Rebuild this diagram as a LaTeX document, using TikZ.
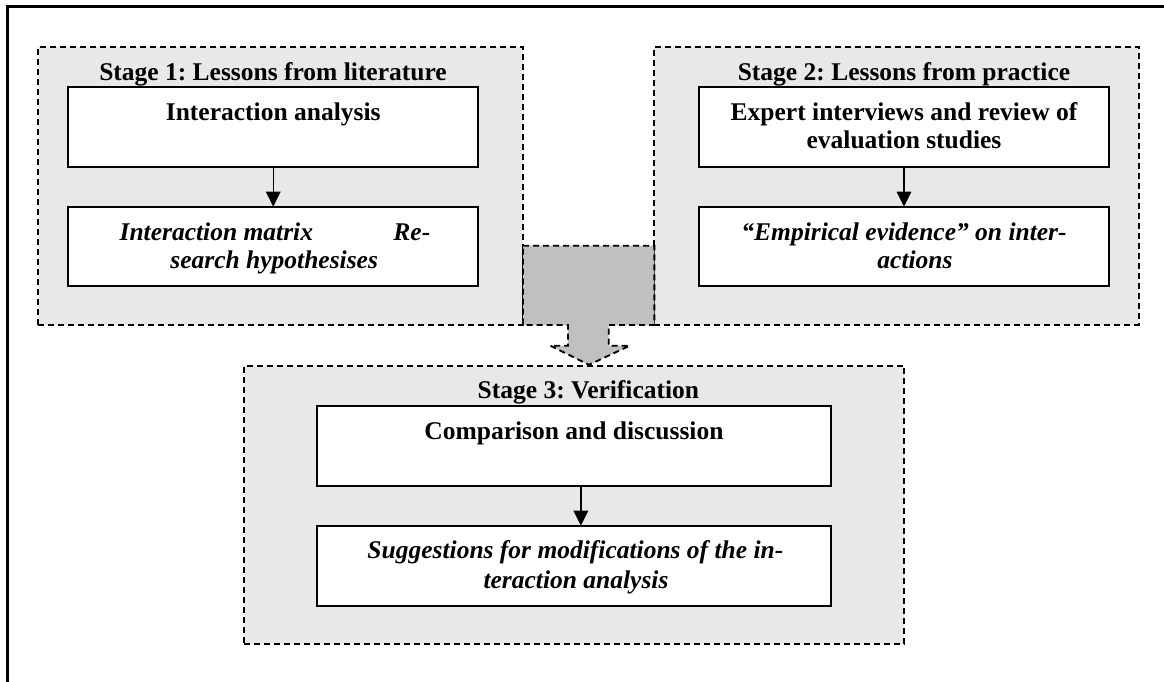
\documentclass[tikz,border=0pt]{standalone}
\usepackage{fontspec}
\setmainfont{Liberation Serif}
\usetikzlibrary{arrows.meta}
\definecolor{stagefill}{HTML}{E8E8E8}
\definecolor{arrowfill}{HTML}{C0C0C0}
\frenchspacing
\begin{document}
\begin{tikzpicture}[x=1pt,y=-1pt,
  frame/.style={draw=black,line width=3pt},
  stagebox/.style={draw=black,fill=stagefill,dash pattern=on 6pt off 4pt,line width=1.9pt,inner sep=0pt,outer sep=0pt},
  innerbox/.style={draw=black,fill=white,line width=2.2pt,inner sep=0pt,outer sep=0pt},
  txt/.style={inner sep=0pt,anchor=base,font=\fontsize{25.5}{30}\selectfont\bfseries},
  itxt/.style={txt,font=\fontsize{25.5}{30}\selectfont\bfseries\itshape},
  flow/.style={-{Triangle[length=15pt,width=14.5pt]},line width=1.5pt},
  bigarrow/.style={fill=arrowfill,draw=black,dash pattern=on 6pt off 4pt,line width=1.9pt}]
\useasboundingbox (0,0) rectangle (1164,681);
\clip (0,0) rectangle (1164,681);
% outer frame (cut at right and bottom)
\draw[frame] (7,6) rectangle (1185,700);

% stage boxes
\node[stagebox,minimum width=484.7pt,minimum height=278.3pt] (s1) at (280.65,185.85) {};
\node[stagebox,minimum width=484.3pt,minimum height=278.3pt] (s2) at (896.55,185.85) {};
\node[stagebox,minimum width=660.3pt,minimum height=278.3pt] (s3) at (574.15,504.85) {};

% big gray arrow
\draw[bigarrow] (523,245.7) -- (654.4,245.7) -- (654.4,325) -- (608.7,325) -- (608.7,345.7)
  -- (629.7,345.7) -- (589,364.8) -- (550.3,345.7) -- (568,345.7) -- (568,325) -- (523,325) -- cycle;

% stage titles
\node[txt] (t1) at (273,80) {Stage 1: Lessons from literature};
\node[txt] (t2) at (904,80) {Stage 2: Lessons from practice};
\node[txt] (t3) at (588.4,398.3) {Stage 3: Verification};

% inner boxes
\node[innerbox,minimum width=410.3pt,minimum height=79.4pt] (b11) at (272.85,127) {};
\node[innerbox,minimum width=410.3pt,minimum height=79.3pt] (b12) at (272.85,246.35) {};
\node[innerbox,minimum width=410.6pt,minimum height=79.4pt] (b21) at (904,127) {};
\node[innerbox,minimum width=410.6pt,minimum height=79.3pt] (b22) at (904,246.35) {};
\node[innerbox,minimum width=514.3pt,minimum height=80pt] (b31) at (573.85,445.7) {};
\node[innerbox,minimum width=514.3pt,minimum height=80pt] (b32) at (573.85,565.7) {};

% texts
\node[txt] (x11) at (273.2,120.7) {Interaction analysis};
\node[itxt,anchor=base west] (x12a) at (119.4,240) {Interaction matrix};
\node[itxt,anchor=base east] (x12b) at (430.5,240) {Re-};
\node[itxt] (x12c) at (274.2,268.3) {search hypothesises};
\node[txt] (x21a) at (904,120) {Expert interviews and review of};
\node[txt] (x21b) at (904,148.5) {evaluation studies};
\node[itxt] (x22a) at (904,240) {“Empirical evidence” on inter-};
\node[itxt] (x22b) at (915,268.3) {actions};
\node[txt] (x31) at (574,439) {Comparison and discussion};
\node[itxt] (x32a) at (575.4,558.3) {Suggestions for modifications of the in-};
\node[itxt] (x32b) at (576,588.3) {teraction analysis};

% flow arrows
\draw[flow] ([xshift=0.4pt]b11.south) -- ([xshift=0.4pt]b12.north);
\draw[flow] (b21.south) -- (b22.north);
\draw[flow] ([xshift=7pt]b31.south) -- ([xshift=7pt]b32.north);
\end{tikzpicture}
\end{document}
